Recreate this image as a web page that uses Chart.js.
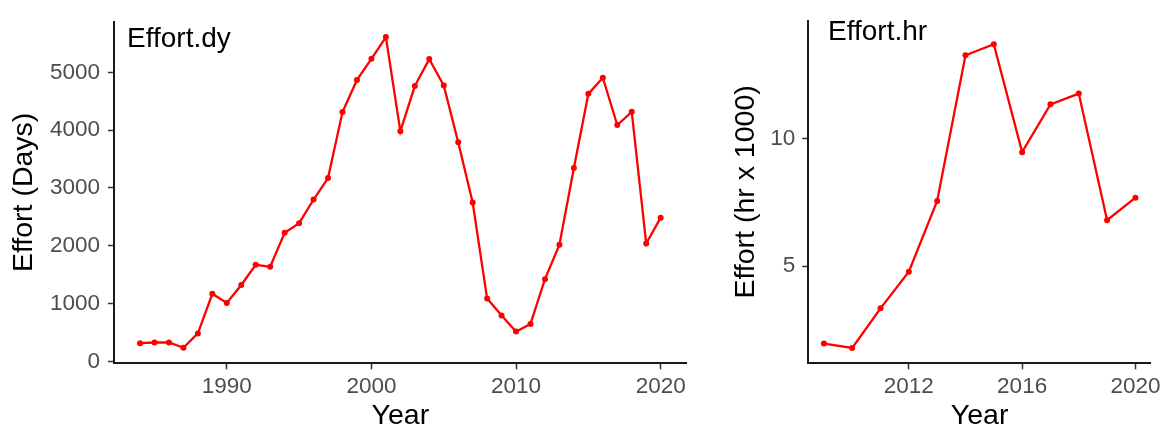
<!DOCTYPE html>
<html>
<head>
<meta charset="utf-8">
<script src="https://cdn.jsdelivr.net/npm/chart.js@4.4.1/dist/chart.umd.min.js"></script>
<style>
  html, body { margin: 0; padding: 0; background: #ffffff; }
  #wrap { position: relative; width: 1165px; height: 429px; overflow: hidden; background: #fff; }
  .panel { position: absolute; top: 0; height: 429px; }
  #pDy { left: 0; width: 700px; }
  #pHr { left: 700px; width: 465px; }
</style>
</head>
<body>
<div id="wrap">
  <div class="panel" id="pDy"><canvas id="cDy" width="700" height="429"></canvas></div>
  <div class="panel" id="pHr"><canvas id="cHr" width="465" height="429"></canvas></div>
</div>
<script>
// Fishing effort in days, 1984-2020
const yearsDy = [1984, 1985, 1986, 1987, 1988, 1989, 1990, 1991, 1992, 1993,
                 1994, 1995, 1996, 1997, 1998, 1999, 2000, 2001, 2002, 2003,
                 2004, 2005, 2006, 2007, 2008, 2009, 2010, 2011, 2012, 2013,
                 2014, 2015, 2016, 2017, 2018, 2019, 2020];
const effortDy = [315, 327, 327, 236, 484, 1170, 1012, 1322, 1670, 1636,
                  2226, 2390, 2800, 3170, 4312, 4868, 5234, 5610, 3980, 4762,
                  5228, 4772, 3789, 2749, 1086, 793, 518, 648, 1423, 2018,
                  3346, 4627, 4907, 4088, 4317, 2040, 2486];

// Fishing effort in hours (thousands), 2009-2020
const yearsHr = [2009, 2010, 2011, 2012, 2013, 2014, 2015, 2016, 2017, 2018, 2019, 2020];
const effortHr = [1.97, 1.80, 3.35, 4.78, 7.55, 13.25, 13.68, 9.46, 11.33, 11.75, 6.80, 7.68];

// Tick breaks
const xTicksDy = [1990, 2000, 2010, 2020];
const yTicksDy = [0, 1000, 2000, 3000, 4000, 5000];
const xTicksHr = [2012, 2016, 2020];
const yTicksHr = [5, 10];
const yRangeHr = [1.20, 14.61];

const FONT = "'Liberation Sans', Arial, sans-serif";
const LINE_RED = '#ff0000';

// 5% padding on either side of the data range
function expand(vals, mult) {
  const lo = Math.min(...vals), hi = Math.max(...vals);
  const pad = (hi - lo) * mult;
  return [lo - pad, hi + pad];
}

// Panel label drawn in the upper-left corner of the plotting area
const panelLabel = {
  id: 'panelLabel',
  afterDraw(chart, args, opts) {
    const { ctx, chartArea } = chart;
    ctx.save();
    ctx.font = `28px ${FONT}`;
    ctx.fillStyle = '#000';
    ctx.textAlign = 'left';
    ctx.textBaseline = 'alphabetic';
    ctx.fillText(opts.text, chartArea.left + opts.dx, opts.baseline);
    ctx.restore();
  }
};

function makeChart(canvasId, cfg) {
  const xr = expand(cfg.years, 0.05);
  const yr = cfg.yRange;
  return new Chart(document.getElementById(canvasId), {
    type: 'line',
    data: {
      datasets: [{
        data: cfg.years.map((y, i) => ({ x: y, y: cfg.values[i] })),
        borderColor: LINE_RED,
        backgroundColor: LINE_RED,
        borderWidth: 2.3,
        pointRadius: 3,
        pointBorderWidth: 0,
        pointBackgroundColor: LINE_RED,
        tension: 0,
        fill: false
      }]
    },
    plugins: [panelLabel],
    options: {
      responsive: false,
      animation: false,
      devicePixelRatio: 1,
      layout: { padding: { top: 13.3, right: cfg.padRight, left: 0, bottom: 0 } },
      plugins: {
        legend: { display: false },
        tooltip: { enabled: false },
        panelLabel: cfg.label
      },
      scales: {
        x: {
          type: 'linear',
          position: 'bottom',
          min: xr[0],
          max: xr[1],
          afterBuildTicks: s => { s.ticks = cfg.xTicks.map(v => ({ value: v })); },
          afterFit: s => { s.height = 429 - 363.3; },
          ticks: {
            color: '#4d4d4d',
            font: { family: FONT, size: 22.5 },
            padding: 4,
            maxRotation: 0,
            autoSkip: false,
            callback: v => String(v)
          },
          grid: { display: true, drawOnChartArea: false, drawTicks: true, tickLength: 6, tickColor: '#333333', tickWidth: 1.5 },
          border: { display: true, color: '#1a1a1a', width: 2 },
          title: {
            display: true, text: 'Year', color: '#000',
            font: { family: FONT, size: 28.5, lineHeight: 0.87 },
            padding: { top: 0, bottom: 0 }
          }
        },
        y: {
          type: 'linear',
          min: yr[0],
          max: yr[1],
          afterBuildTicks: s => { s.ticks = cfg.yTicks.map(v => ({ value: v })); },
          afterFit: s => { s.width = cfg.yWidth; },
          ticks: {
            color: '#4d4d4d',
            font: { family: FONT, size: 22.5 },
            padding: cfg.yTickPad,
            autoSkip: false,
            callback: v => String(v)
          },
          grid: { display: true, drawOnChartArea: false, drawTicks: true, tickLength: 6, tickColor: '#333333', tickWidth: 1.5 },
          border: { display: true, color: '#1a1a1a', width: 2 },
          title: {
            display: true, text: cfg.yTitle, color: '#000',
            font: { family: FONT, size: 28.5, lineHeight: 1 },
            padding: { top: cfg.yTitlePad, bottom: 0 }
          }
        }
      }
    }
  });
}

makeChart('cDy', {
  years: yearsDy,
  values: effortDy,
  xTicks: xTicksDy,
  yTicks: yTicksDy,
  yRange: expand(effortDy, 0.05),
  yTitle: 'Effort (Days)',
  yWidth: 114,
  yTickPad: 8,
  yTitlePad: 10.3,
  padRight: 700 - 686.7,
  label: { text: 'Effort.dy', dx: 13, baseline: 46.5 }
});

makeChart('cHr', {
  years: yearsHr,
  values: effortHr,
  xTicks: xTicksHr,
  yTicks: yTicksHr,
  yRange: yRangeHr,
  yTitle: 'Effort (hr x 1000)',
  yWidth: 108.3,
  yTickPad: 7,
  yTitlePad: 31.6,
  padRight: 465 - 452.7,
  label: { text: 'Effort.hr', dx: 19.7, baseline: 39.5 }
});
</script>
</body>
</html>
